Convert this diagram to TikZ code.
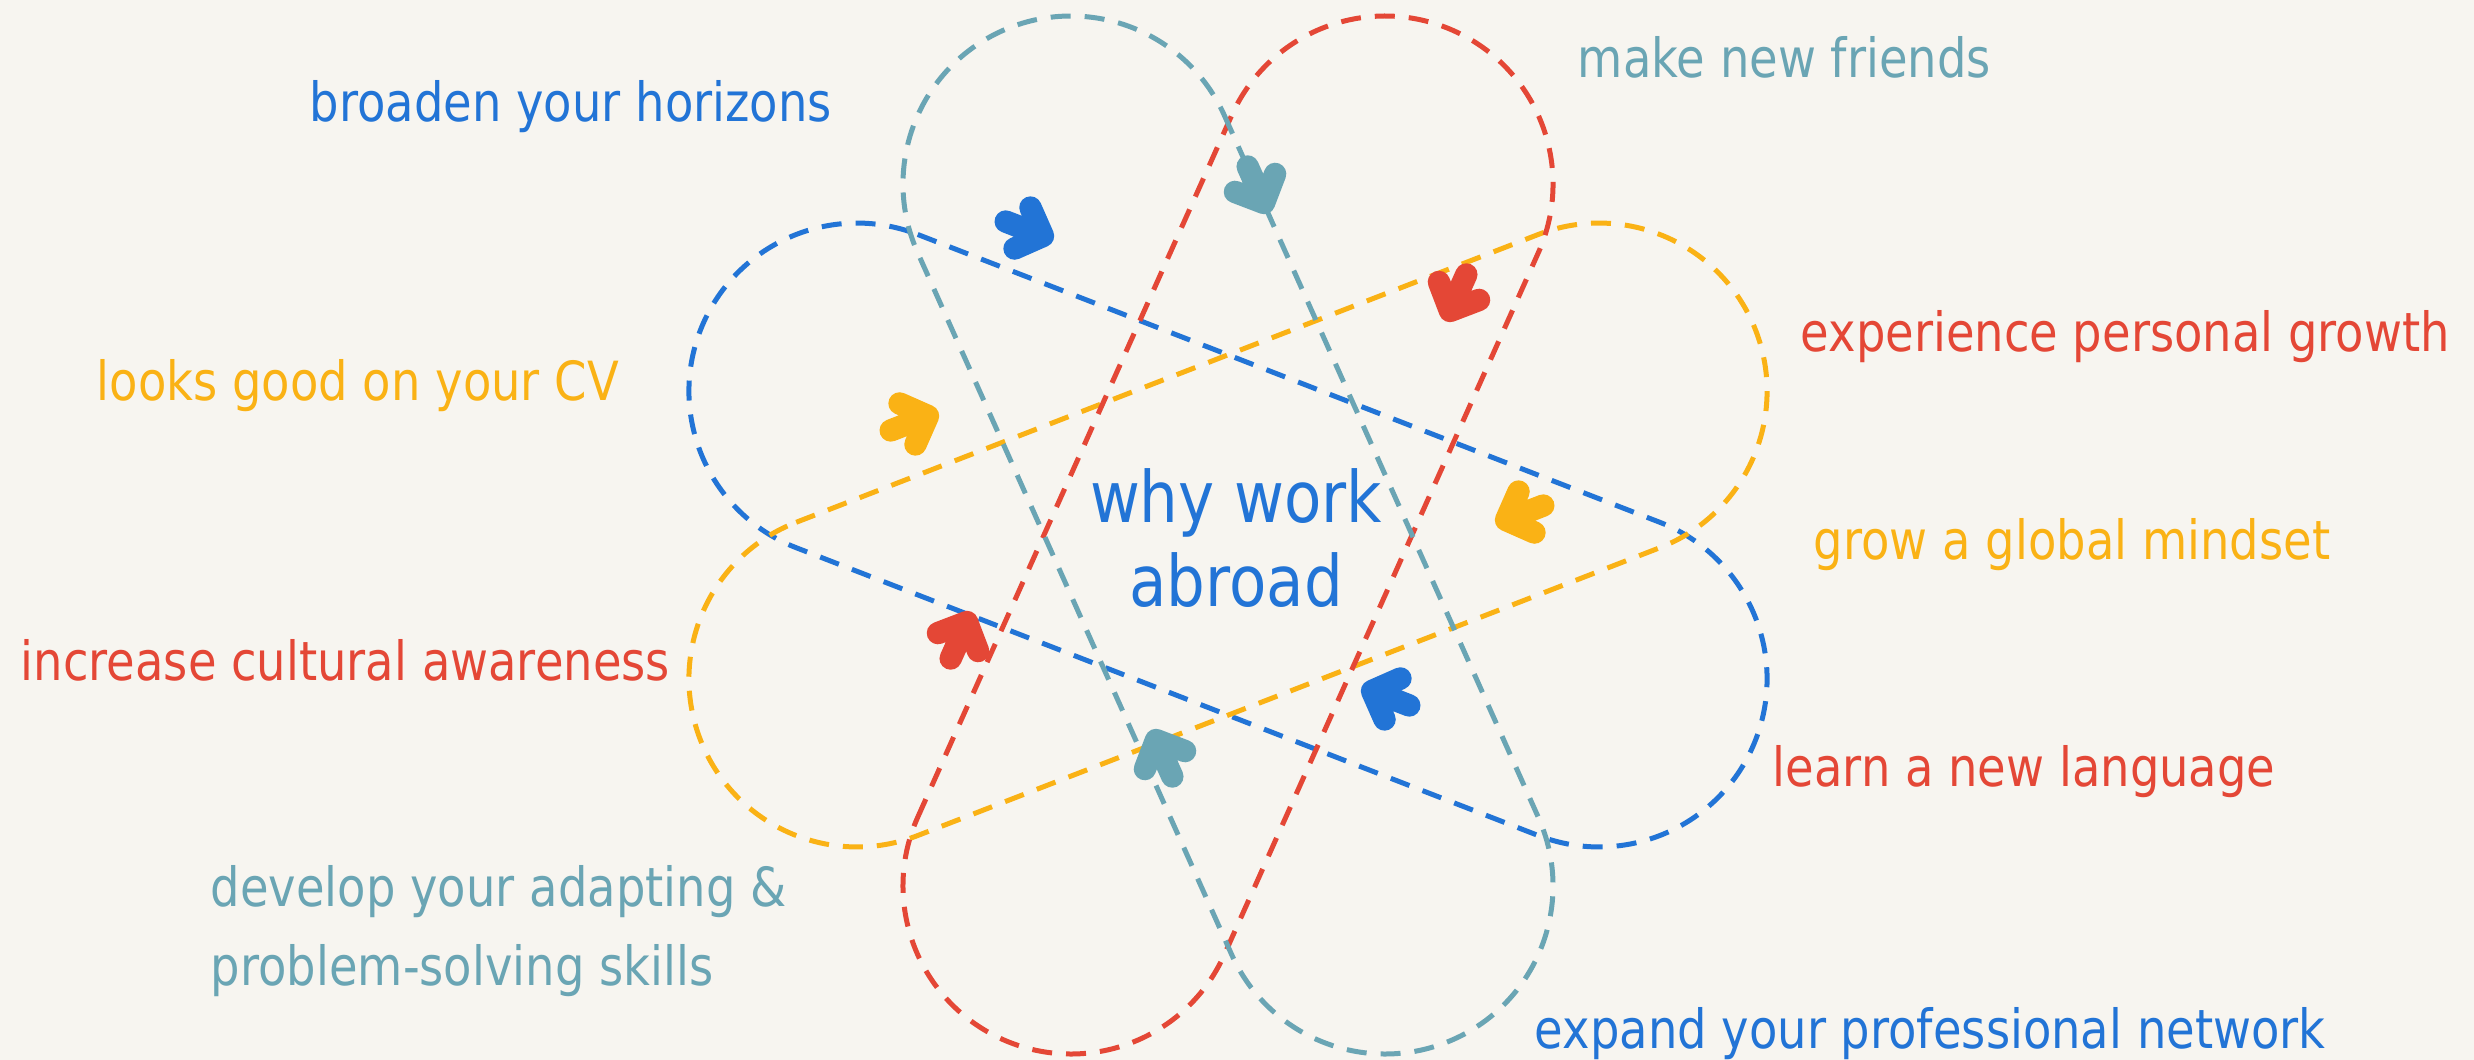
\documentclass[tikz,border=0pt]{standalone}
\usepackage{fontspec}
\setmainfont{DejaVu Sans}[FakeStretch=0.86]
\definecolor{bgc}{HTML}{F7F5F0}
\definecolor{cblue}{HTML}{2274D6}
\definecolor{cteal}{HTML}{6AA5B4}
\definecolor{cred}{HTML}{E44736}
\definecolor{corange}{HTML}{FAB215}
\tikzset{
  loopline/.style={line width=1.25pt, dash pattern=on 5pt off 3.5pt},
  chev/.style={line width=5.6pt, line cap=round, line join=round},
  lab/.style={anchor=base west, inner sep=0pt, font=\fontsize{13.5}{16}\selectfont},
  ttl/.style={anchor=base, inner sep=0pt, text=cblue, font=\fontsize{17.75}{21}\selectfont}
}
\newcommand\stadiumloop[3]{%
  \begin{scope}[shift={(1228,535)}, rotate=#2]
    \draw[loopline, #1] (-#3,-168) -- (#3,-168)
      arc[start angle=-90, end angle=90, radius=168] -- (-#3,168)
      arc[start angle=90, end angle=270, radius=168] -- cycle;
  \end{scope}}
\newcommand\chevarrow[4]{%
  \begin{scope}[shift={(#2,#3)}, rotate=#4]
    \draw[chev, #1] (-40,0) -- (0,0) (-22,-22) -- (0,0) -- (-22,22);
  \end{scope}}
\begin{document}
\begin{tikzpicture}[x=0.25pt, y=-0.25pt]
\fill[bgc] (0,0) rectangle (2474,1060);
\useasboundingbox (0,0) rectangle (2474,1060);

% loops
\stadiumloop{cblue}{-21.2}{398}
\stadiumloop{corange}{21.2}{398}
\stadiumloop{cred}{65.9}{384.5}
\stadiumloop{cteal}{-65.9}{384.5}

% arrows
\chevarrow{cblue}{1043}{236}{-21.2}
\chevarrow{cteal}{1264}{203}{-65.9}
\chevarrow{cred}{1450}{311}{245.9}
\chevarrow{corange}{1506}{520}{201.2}
\chevarrow{cblue}{1372}{691}{158.8}
\chevarrow{cteal}{1156}{740}{114.1}
\chevarrow{cred}{967}{622}{65.9}
\chevarrow{corange}{928}{416}{21.2}

% centre text
\node[ttl] (title1) at (1236,522.7) {why work};
\node[ttl] (title2) at (1236,606.7) {abroad};

% labels
\node[lab, text=cblue] (horizons) at (309,121.4) {broaden your horizons};
\node[lab, text=cteal] (friends) at (1577,78) {make new friends};
\node[lab, text=cred] (growth) at (1800,351) {experience personal growth};
\node[lab, text=corange] (cv) at (96,400) {looks good on your CV};
\node[lab, text=corange] (mindset) at (1813,559) {grow a global mindset};
\node[lab, text=cred] (cultural) at (20,680.7) {increase cultural awareness};
\node[lab, text=cred] (language) at (1772,786) {learn a new language};
\node[lab, text=cteal] (adapt1) at (210,906) {develop your adapting \&};
\node[lab, text=cteal] (adapt2) at (210,985) {problem-solving skills};
\node[lab, text=cblue] (network) at (1534,1048) {expand your professional network};
\end{tikzpicture}
\end{document}
